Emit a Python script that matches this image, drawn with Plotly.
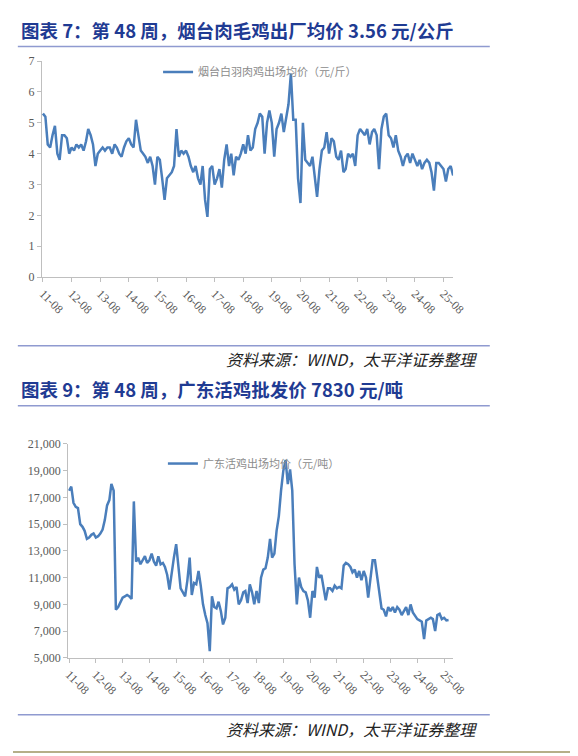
import pandas as pd
import plotly.graph_objects as go

# 烟台白羽肉鸡出场均价（元/斤），月度，2011-08 起
yt_price = [5.3, 5.2, 4.3, 4.2, 4.6, 4.9, 4.0, 3.8, 4.6, 4.6, 4.5, 4.0,
            4.2, 4.1, 4.3, 4.2, 4.3, 4.1,
            4.4, 4.8, 4.6, 4.3, 3.6, 4.0, 4.1, 4.2, 4.1, 4.2, 4.2, 4.0,
            4.3, 4.2, 4.0, 3.9, 4.2, 4.4, 4.5, 4.3, 4.2, 5.1, 4.6, 4.1,
            4.0, 3.9, 3.7, 3.9, 3.6, 3.0, 3.9, 3.8, 3.2, 2.5, 3.2, 3.3,
            3.4, 3.6, 4.8, 3.9, 4.1, 4.0, 4.1, 3.9, 3.6, 3.4, 3.6, 3.2,
            3.0, 3.6, 2.5, 1.95, 3.5, 3.6, 3.0, 3.2, 3.5, 2.9, 3.8, 4.3,
            3.6, 4.0, 3.3, 3.9, 3.8, 4.0, 4.3, 4.0, 4.6, 4.1, 4.2, 4.8,
            5.0, 5.3, 5.2, 4.0, 5.0, 5.4, 5.0, 3.9, 4.8, 5.0, 5.3, 4.7,
            5.2, 5.6, 6.6, 5.1, 5.1, 3.2, 2.4, 5.0, 3.8, 3.7, 3.6, 3.9,
            3.2, 2.6, 3.5, 4.1, 4.2, 4.7, 4.0, 4.5, 4.4, 3.9, 3.8, 4.1,
            3.4, 3.5, 4.0, 3.9, 4.0, 3.6, 4.6, 4.8, 4.7, 4.6, 4.8, 4.3,
            4.7, 4.8, 4.6, 3.5, 4.8, 5.2, 5.3, 4.6, 4.5, 4.2, 4.6, 4.1,
            3.9, 3.6, 3.9, 4.0, 3.7, 4.0, 3.8, 3.6, 3.8, 3.5, 3.7, 3.8,
            3.7, 3.4, 2.8, 3.7, 3.7, 3.6, 3.5, 3.1, 3.5, 3.6, 3.3, 3.4,
            3.35, 3.3, 3.35]

# 广东活鸡出场均价（元/吨），月度，2011-08 起
gd_price = [17500, 17800, 16600, 16300, 16200, 15000, 14800, 14500, 13900, 14000, 14200, 14300,
            14000, 14100, 14300, 14600, 15300, 16400, 16800, 18000, 17500, 8600, 8800, 9100,
            9500, 9600, 9700, 9600, 9400, 16700, 12200, 12500, 12000, 12300, 12600, 12100,
            12300, 12800, 12200, 11900, 12600, 12000, 12100, 11800, 11200, 10100, 11500, 12500,
            13500, 12000, 10200, 9900, 9600, 10800, 12500, 9700, 10600, 10500, 11500, 10400,
            9000, 8200, 7600, 5500, 9600, 8800, 8700, 9200, 8500, 7500, 8000, 10200,
            10300, 10500, 10100, 10300, 9000, 9300, 9900, 10000, 9100, 10500, 9900, 9000,
            10000, 9100, 11000, 11600, 11700, 12500, 13900, 12500, 12800, 14500, 15600, 17500,
            19000, 19800, 18000, 19100, 17500, 12000, 9000, 11000, 10300, 10000, 9900, 9300,
            8000, 10000, 9500, 11800, 11000, 11200, 10000, 9300, 10200, 10200, 10000, 10400,
            10200, 10300, 10200, 11900, 12100, 12000, 11800, 11400, 11600, 11000, 11500, 10800,
            11500, 11000, 9500, 11200, 12300, 12300, 11000, 9800, 8700, 8600, 8100, 8800,
            8500, 8800, 8400, 8800, 8600, 8200, 8500, 8800, 8200, 9000, 8400, 8100,
            7900, 7800, 7700, 6400, 7800, 7900, 8000, 7900, 7000, 8200, 8300, 7900,
            8000, 7800, 7830]

tick_years = list(range(2011, 2026))
tick_text = [f"{y % 100}-08" for y in tick_years]
tick_vals = [f"{y}-08-01" for y in tick_years]

dates_yt = pd.date_range("2011-08-01", periods=len(yt_price), freq="MS")
dates_gd = pd.date_range("2011-08-01", periods=len(gd_price), freq="MS")

W, H = 578, 756
BLUE = "#4a7ebb"
TITLE_C = "#1f3b93"
RULE_C = "#8f9ad0"
TICK_FONT = dict(family="Liberation Serif", size=12, color="#595959")


def px(x0, x1):
    return [x0 / W, x1 / W]


def py(y_top, y_bot):
    return [1 - y_bot / H, 1 - y_top / H]


fig = go.Figure()
fig.add_trace(go.Scatter(x=dates_yt, y=yt_price, mode="lines", name="烟台白羽肉鸡出场均价（元/斤）",
                         line=dict(color=BLUE, width=2.5), xaxis="x", yaxis="y", legend="legend"))
fig.add_trace(go.Scatter(x=dates_gd, y=gd_price, mode="lines", name="广东活鸡出场均价（元/吨）",
                         line=dict(color=BLUE, width=2.5), xaxis="x2", yaxis="y2", legend="legend2"))

axis_common = dict(showgrid=False, zeroline=False, showline=True, linecolor="#bfbfbf",
                   ticks="outside", ticklen=4, tickcolor="#bfbfbf", tickfont=TICK_FONT)
xcommon = dict(axis_common, tickvals=tick_vals, ticktext=tick_text, tickangle=45,
               range=["2011-07-20", "2025-12-01"])

legend_common = dict(bgcolor="rgba(0,0,0,0)", font=dict(family="Noto Sans CJK SC", size=11, color="#8c8c8c"),
                     xanchor="left", yanchor="middle", itemwidth=30)

fig.update_layout(
    width=W, height=H, margin=dict(l=0, r=0, t=0, b=0),
    paper_bgcolor="white", plot_bgcolor="white", showlegend=True,
    xaxis=dict(xcommon, domain=px(30, 455), anchor="y"),
    yaxis=dict(axis_common, domain=py(47, 267), range=[0, 7], dtick=1, anchor="x"),
    xaxis2=dict(xcommon, domain=px(57, 455), anchor="y2"),
    yaxis2=dict(axis_common, domain=py(437, 655), range=[5000, 21000], tick0=5000, dtick=2000,
                tickformat=",d", anchor="x2"),
    legend=dict(legend_common, x=150 / W, y=1 - 58 / H),
    legend2=dict(legend_common, x=155 / W, y=1 - 457 / H),
)

titles = [("图表 7：第 48 周，烟台肉毛鸡出厂均价 3.56 元/公斤", 15, 32),
          ("图表 9：第 48 周，广东活鸡批发价 7830 元/吨", 381, 398)]
for text, ty, ly in titles:
    fig.add_annotation(text=f"<b>{text}</b>", x=6 / W, y=1 - ty / H, xref="paper", yref="paper",
                       xanchor="left", yanchor="middle", showarrow=False,
                       font=dict(family="Noto Sans CJK SC", size=18.5, color=TITLE_C))
    fig.add_shape(type="line", xref="paper", yref="paper", x0=5 / W, x1=493 / W,
                  y0=1 - ly / H, y1=1 - ly / H, line=dict(color=RULE_C, width=1.5))

for sy, ly in [(350, 337), (727, 713)]:
    fig.add_shape(type="line", xref="paper", yref="paper", x0=5 / W, x1=493 / W,
                  y0=1 - ly / H, y1=1 - ly / H, line=dict(color=RULE_C, width=1.5))
    fig.add_annotation(text="<i>资料来源：WIND，太平洋证券整理</i>", x=482 / W, y=1 - sy / H,
                       xref="paper", yref="paper", xanchor="right", yanchor="middle", showarrow=False,
                       font=dict(family="Noto Sans CJK SC", size=16, color="#222222"))

fig.add_shape(type="line", xref="paper", yref="paper", x0=0, x1=1, y0=1 - 751 / H, y1=1 - 751 / H,
              line=dict(color="#9c9462", width=1.5))

fig.write_html("out.html")
